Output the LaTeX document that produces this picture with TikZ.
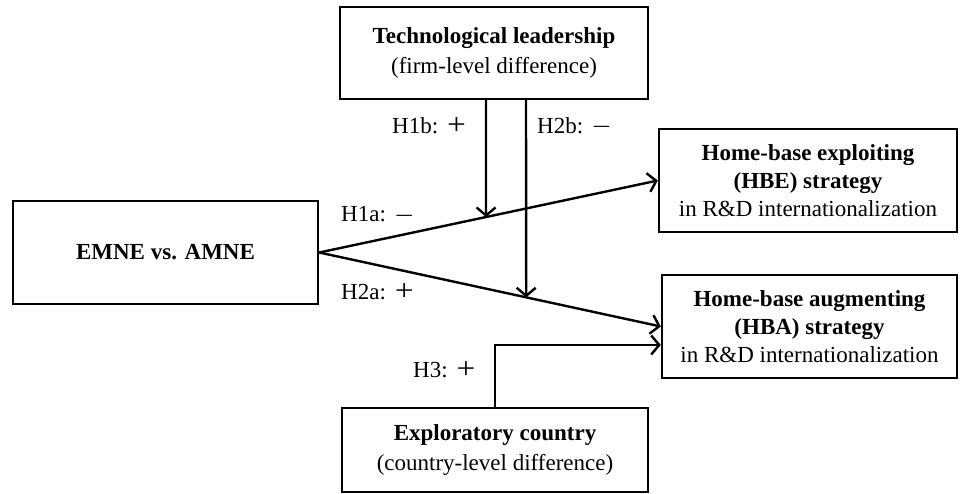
\documentclass[tikz,border=0pt]{standalone}
\usepackage{fontspec}
\setmainfont{Liberation Serif}
\usetikzlibrary{arrows.meta,calc}
\newcommand{\bigplus}{\hspace{9pt}\raisebox{-0.5pt}{\scalebox{1.45}[1.3]{+}}}
\newcommand{\bigminus}{\hspace{9pt}\raisebox{-1.5pt}{\scalebox{1.45}[1]{−}}}
\begin{document}
\begin{tikzpicture}[x=1pt,y=-1pt,line width=2.4pt,
  box/.style={draw,line width=2.4pt,inner sep=0pt,align=center,font=\fontsize{23}{28}\selectfont},
  box2/.style={box,font=\fontsize{23}{29.5}\selectfont},
  arr/.style={-{Straight Barb[length=8pt,width=19pt,line width=2.4pt]}},
  lab/.style={font=\fontsize{23}{26}\selectfont,anchor=west,inner sep=0pt}]
\useasboundingbox (0,0) rectangle (960,494);
\node[box2,minimum width=308pt,minimum height=92pt] (tech) at (494,53)
  {\textbf{Technological leadership}\\(firm-level difference)};
\node[box,minimum width=305pt,minimum height=103pt] (emne) at (165.5,252.5)
  {\textbf{EMNE vs. AMNE}};
\node[box,minimum width=298pt,minimum height=103pt] (hbe) at (808,180.5)
  {\textbf{Home-base exploiting}\\\textbf{(HBE) strategy}\\in R\&D internationalization};
\node[box,minimum width=295pt,minimum height=103pt] (hba) at (809.5,326.5)
  {\textbf{Home-base augmenting}\\\textbf{(HBA) strategy}\\in R\&D internationalization};
\node[box2,minimum width=306pt,minimum height=84pt] (expl) at (495,450)
  {\textbf{Exploratory country}\\(country-level difference)};
\draw[arr] (emne.east) -- (hbe.west);
\draw[arr] (emne.east) -- (hba.west);
\coordinate (m1) at ($(emne.east)!0.4927!(hbe.west)$);
\coordinate (m2) at ($(emne.east)!0.606!(hba.west)$);
\draw[arr] ([xshift=-8pt]tech.south) -- (m1);
\draw[arr] ([xshift=32pt]tech.south) -- (m2);
\coordinate (h3end) at ([yshift=-18.5pt]hba.west);
\draw[arr] (expl.north) |- (h3end);
\node[lab] (l1b) at (391,126) {H1b:\bigplus};
\node[lab] (l2b) at (536,126) {H2b:\bigminus};
\node[lab] (l1a) at (340,215) {H1a:\bigminus};
\node[lab] (l2a) at (340,292) {H2a:\bigplus};
\node[lab] (l3) at (412,370) {H3:\bigplus};
\end{tikzpicture}
\end{document}
